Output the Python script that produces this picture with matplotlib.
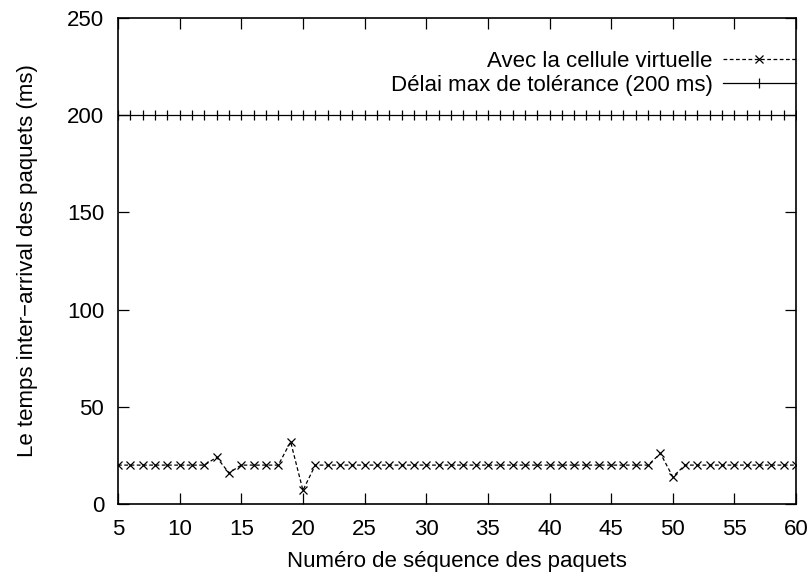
import matplotlib
matplotlib.use('Agg')
import matplotlib.pyplot as plt

plt.rcParams['font.family'] = ['Liberation Sans', 'DejaVu Sans']

# packet sequence numbers and inter-arrival times (ms)
seq = list(range(5, 61))
inter_arrival = [20, 20, 20, 20, 20, 20, 20, 20, 24, 16,
                 20, 20, 20, 20, 32, 7, 20, 20, 20, 20,
                 20, 20, 20, 20, 20, 20, 20, 20, 20, 20,
                 20, 20, 20, 20, 20, 20, 20, 20, 20, 20,
                 20, 20, 20, 20, 26, 14, 20, 20, 20, 20,
                 20, 20, 20, 20, 20, 20]
tolerance = [200] * len(seq)

fig = plt.figure(figsize=(8.09, 5.75), dpi=100)
ax = fig.add_axes([0.1459, 0.1235, 0.8381, 0.8452])

ax.plot(seq, inter_arrival, color='black', linestyle=(0, (3, 2)), linewidth=0.9,
        marker='x', markersize=6, markeredgewidth=0.9, label='Avec la cellule virtuelle')
ax.plot(seq, tolerance, color='black', linestyle='-', linewidth=0.9,
        marker='|', markersize=7, markeredgewidth=0.9, label='Délai max de tolérance (200 ms)')

ax.set_xlim(5, 60)
ax.set_ylim(0, 250)
ax.set_xticks(range(5, 61, 5))
ax.set_yticks(range(0, 251, 50))
ax.tick_params(direction='in', length=8, width=0.9, top=True, right=True, labelsize=16)
ax.tick_params(axis='x', pad=11)
ax.tick_params(axis='y', pad=10)
for s in ax.spines.values():
    s.set_linewidth(1.2)

ax.set_xlabel('Numéro de séquence des paquets', fontsize=16, labelpad=8)
ax.set_ylabel('Le temps inter−arrival des paquets (ms)', fontsize=16, labelpad=21)

ax.legend(loc='upper right', frameon=False, markerfirst=False, fontsize=16,
          handlelength=3.3, handletextpad=0.45, labelspacing=0.12,
          borderpad=0, borderaxespad=0, bbox_to_anchor=(1.0, 0.932))

fig.savefig('out.png', dpi=100)
